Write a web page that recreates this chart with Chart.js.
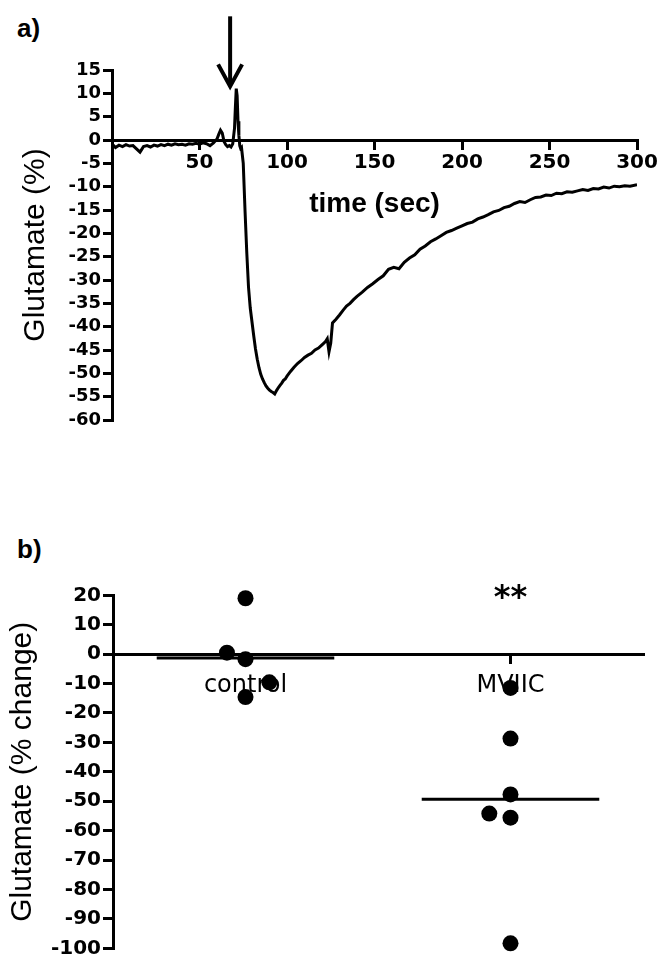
<!DOCTYPE html>
<html>
<head>
<meta charset="utf-8">
<title>Glutamate response</title>
<script src="https://cdn.jsdelivr.net/npm/chart.js@4.4.1/dist/chart.umd.min.js"></script>
<style>
  body { margin: 0; background: #fff; }
  #page { position: relative; width: 666px; height: 967px; overflow: hidden; }
  canvas { position: absolute; left: 0; }
  #chartA { top: 0; }
  #chartB { top: 540px; }
  .panel-tag { position: absolute; left: 17px; font: bold 26px "Liberation Sans", Arial, sans-serif; line-height: 26px; color: #000; }
</style>
</head>
<body>
<div id="page">
  <div class="panel-tag" style="top:15px">a)</div>
  <div class="panel-tag" style="top:536px">b)</div>
  <canvas id="chartA" width="666" height="520"></canvas>
  <canvas id="chartB" width="666" height="427"></canvas>
</div>
<script>
// ---- panel a: glutamate trace over time ----
const timeSec = [
  0, 1, 2, 4, 6, 8, 10, 12, 14, 16,
  17, 18, 20, 22, 24, 26, 28, 30, 32, 34,
  36, 38, 40, 42, 44, 46, 48, 50, 52, 54,
  56, 58, 60, 61, 62, 63, 64, 65, 66, 67,
  68, 69, 70, 70.5, 71, 71.5, 72, 72.5, 73, 73.5,
  74, 75, 76, 77, 78, 79, 80, 81, 82, 83,
  84, 85, 86, 87, 88, 89, 90, 91, 92, 93,
  94, 95, 96, 97, 98, 99, 100, 102, 104, 106,
  108, 110, 112, 114, 116, 118, 120, 122, 123, 124,
  125, 126, 128, 130, 132, 134, 136, 138, 140, 143,
  146, 149, 152, 155, 158, 161, 164, 167, 170, 173,
  176, 179, 182, 185, 188, 191, 194, 197, 200, 203,
  206, 209, 212, 215, 218, 221, 224, 227, 230, 233,
  236, 239, 242, 245, 248, 251, 254, 257, 260, 263,
  266, 269, 272, 275, 278, 281, 284, 287, 290, 293,
  296, 300
];
const glutamatePct = [
  -1.8, -1.2, -1.6, -1.1, -1.4, -1.0, -1.3, -1.2, -1.9, -2.6,
  -2.0, -1.4, -1.2, -1.5, -1.1, -1.3, -1.0, -1.2, -0.9, -1.1,
  -0.8, -1.0, -0.9, -1.1, -0.8, -0.9, -0.7, -0.9, -0.6, -0.8,
  -1.2, -0.6, 0.2, 1.2, 2.1, 1.5, -0.3, -1.0, -1.4, -1.2,
  -1.5, -0.8, 2.5, 7.0, 11.0, 9.5, 4.0, 1.0, -1.2, -1.8,
  -1.6, -5.0, -15.0, -24.0, -31.5, -36.0, -39.0, -42.0, -44.8, -47.0,
  -48.8, -50.2, -51.2, -52.0, -52.7, -53.2, -53.6, -53.9, -54.1, -54.4,
  -53.7, -53.1, -52.6, -52.1, -51.5, -51.2, -50.6, -49.6, -48.7, -47.9,
  -47.3, -46.6, -46.1, -45.7, -45.0, -44.6, -43.9, -43.2, -42.6, -45.4,
  -43.5, -39.2, -38.4, -37.5, -36.5, -35.6, -35.0, -34.2, -33.5, -32.6,
  -31.6, -30.8, -29.9, -29.1, -27.7, -27.3, -27.6, -26.2, -25.3, -24.6,
  -23.4, -22.7, -21.8, -21.2, -20.5, -19.8, -19.4, -18.9, -18.4, -17.9,
  -17.6, -16.9, -16.5, -16.0, -15.4, -15.1, -14.5, -14.2, -13.6, -13.2,
  -13.4, -12.8, -12.3, -12.2, -11.8, -11.9, -11.4, -11.5, -11.1, -11.2,
  -10.9, -10.6, -10.8, -10.4, -10.5, -10.1, -10.3, -9.9, -10.0, -9.8,
  -9.9, -9.6
];
const arrowTime = 67.5;    // where the drug goes on
const arrowFrom = 26.5;
const arrowTo = 11.5;

// ---- panel b: single experiments ----
const groups = ['control', 'MVIIC'];
const controlPct = [19.0, 0.5, -1.7, -9.6, -14.6];
const controlJitter = [0, -0.07, 0, 0.09, 0];
const mviicPct = [-11.5, -28.7, -47.7, -54.2, -55.6, -98.3];
const mviicJitter = [0, 0, 0, -0.08, 0, 0];
const sigLabel = '**';

const black = '#000';
const boldTick = size => ({ family: 'DejaVu Sans', weight: 'bold', size: size });
const axisGrid = len => ({ drawOnChartArea: false, drawTicks: true, tickLength: len, lineWidth: 3, color: black });
const axisBorder = { color: black, width: 3 };

Chart.defaults.color = black;
Chart.defaults.font.family = 'DejaVu Sans';

const arrowPlugin = {
  id: 'arrow',
  afterDraw(chart) {
    const { ctx, scales: { x, y } } = chart;
    const ax = x.getPixelForValue(arrowTime);
    const yTop = y.getPixelForValue(arrowFrom);
    const yTip = y.getPixelForValue(arrowTo);
    ctx.save();
    ctx.strokeStyle = black;
    ctx.lineWidth = 4;
    ctx.beginPath();
    ctx.moveTo(ax, yTop);
    ctx.lineTo(ax, yTip - 3);
    ctx.stroke();
    ctx.beginPath();
    ctx.moveTo(ax - 12, yTip - 22);
    ctx.lineTo(ax, yTip);
    ctx.lineTo(ax + 12, yTip - 22);
    ctx.stroke();
    ctx.restore();
  }
};

new Chart(document.getElementById('chartA'), {
  type: 'scatter',
  data: {
    datasets: [{
      data: timeSec.map((t, i) => ({ x: t, y: glutamatePct[i] })),
      showLine: true,
      borderColor: black,
      borderWidth: 3,
      pointRadius: 0,
      tension: 0
    }]
  },
  options: {
    responsive: false,
    animation: false,
    devicePixelRatio: 1,
    // x axis sits on y=0, so it takes no room at the bottom
    layout: { padding: { left: 0, top: 70, right: 29, bottom: 100 } },
    plugins: { legend: { display: false }, tooltip: { enabled: false } },
    scales: {
      x: {
        type: 'linear',
        position: { y: 0 },
        min: 0,
        max: 300,
        afterFit: s => { s.height = 81; },
        grid: axisGrid(8),
        border: axisBorder,
        ticks: {
          stepSize: 50,
          autoSkip: false,
          maxRotation: 0,
          padding: 3,
          font: boldTick(20),
          callback: v => (v === 0 ? '' : v)
        },
        title: {
          display: true,
          text: 'time (sec)',
          font: { family: 'Liberation Sans', weight: 'bold', size: 28 },
          padding: 0
        }
      },
      y: {
        min: -60,
        max: 15,
        afterFit: s => { s.width = 112; },
        grid: axisGrid(9),
        border: axisBorder,
        ticks: { stepSize: 5, autoSkip: false, padding: 2, font: boldTick(18) },
        title: {
          display: true,
          text: 'Glutamate (%)',
          font: { family: 'Liberation Sans', size: 30 },
          padding: { top: 18 }
        }
      }
    }
  },
  plugins: [arrowPlugin]
});

const mean = arr => arr.reduce((a, b) => a + b, 0) / arr.length;
const meanHalf = 0.335;
const dots = (vals, jitter, center) => vals.map((v, i) => ({ x: center + jitter[i], y: v }));
const meanBar = (vals, center) => [
  { x: center - meanHalf, y: mean(vals) },
  { x: center + meanHalf, y: mean(vals) }
];
const dotStyle = { clip: false, pointRadius: 8, pointBackgroundColor: black, pointBorderColor: black, pointBorderWidth: 0 };
const barStyle = { showLine: true, borderColor: black, borderWidth: 3, pointRadius: 0 };

const sigPlugin = {
  id: 'sig',
  afterDraw(chart) {
    const { ctx, scales: { x, y } } = chart;
    ctx.save();
    ctx.fillStyle = black;
    ctx.font = 'bold 32px "DejaVu Sans"';
    ctx.textAlign = 'center';
    ctx.textBaseline = 'middle';
    ctx.fillText(sigLabel, x.getPixelForValue(1.5), y.getPixelForValue(18.8));
    ctx.restore();
  }
};

new Chart(document.getElementById('chartB'), {
  type: 'scatter',
  data: {
    datasets: [
      Object.assign({ data: meanBar(controlPct, 0.5) }, barStyle),
      Object.assign({ data: meanBar(mviicPct, 1.5) }, barStyle),
      Object.assign({ data: dots(controlPct, controlJitter, 0.5) }, dotStyle),
      Object.assign({ data: dots(mviicPct, mviicJitter, 1.5) }, dotStyle)
    ]
  },
  options: {
    responsive: false,
    animation: false,
    devicePixelRatio: 1,
    layout: { padding: { left: 0, top: 55.3, right: 23, bottom: 18.7 } },
    plugins: { legend: { display: false }, tooltip: { enabled: false } },
    scales: {
      x: {
        type: 'linear',
        position: { y: 0 },
        min: 0,
        max: 2,
        afterBuildTicks: s => { s.ticks = groups.map((g, i) => ({ value: i + 0.5 })); },
        afterFit: s => { s.height = 0; },
        grid: axisGrid(8),
        border: axisBorder,
        ticks: {
          autoSkip: false,
          maxRotation: 0,
          padding: 9,
          font: { family: 'DejaVu Sans', size: 24 },
          callback: (v, i) => groups[i]
        }
      },
      y: {
        min: -100,
        max: 20,
        afterFit: s => { s.width = 113; },
        grid: axisGrid(10),
        border: axisBorder,
        ticks: { stepSize: 10, autoSkip: false, padding: 2, font: boldTick(20) },
        title: {
          display: true,
          text: 'Glutamate (% change)',
          font: { family: 'Liberation Sans', size: 30 },
          padding: { top: 5 }
        }
      }
    }
  },
  plugins: [sigPlugin]
});
</script>
</body>
</html>
